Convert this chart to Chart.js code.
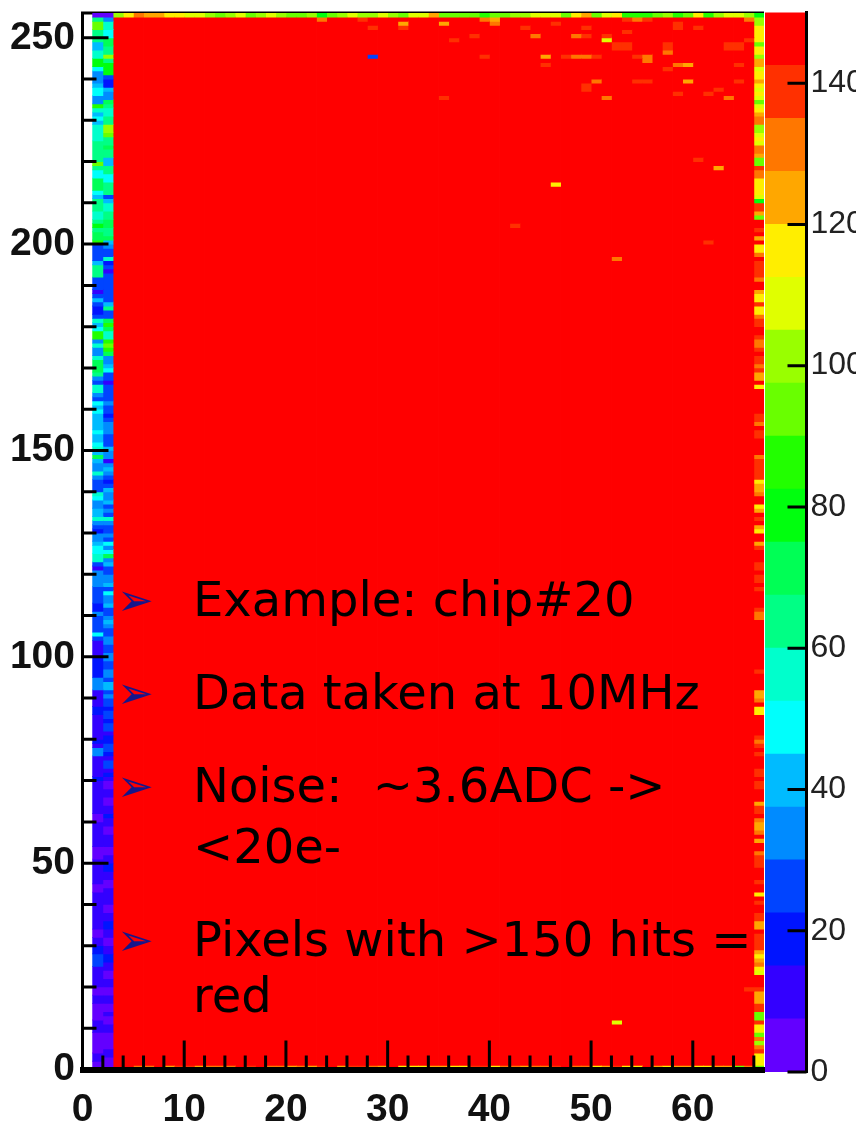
<!DOCTYPE html>
<html>
<head>
<meta charset="utf-8">
<script src="https://cdn.jsdelivr.net/npm/chart.js@4.4.1/dist/chart.umd.min.js"></script>
<style>
html,body{margin:0;padding:0;background:#fff;}
#wrap{position:relative;width:856px;height:1131px;overflow:hidden;background:#fff;}
#wrap canvas{position:absolute;left:0;top:0;}
.note{position:absolute;font-family:'DejaVu Sans',Verdana,sans-serif;font-size:48px;line-height:48px;color:#000;white-space:pre;}
.bullet{position:absolute;font-family:'DejaVu Sans',sans-serif;font-size:44px;line-height:44px;color:#16168a;}
</style>
</head>
<body>
<div id="wrap">
<canvas id="main" width="856" height="1131"></canvas>
<canvas id="zbar" width="856" height="1131"></canvas>
<div class="bullet" style="left:117px;top:578px">➢</div>
<div class="note" style="left:193px;top:575px">Example: chip#20</div>
<div class="bullet" style="left:117px;top:671px">➢</div>
<div class="note" style="left:193px;top:668px">Data taken at 10MHz</div>
<div class="bullet" style="left:117px;top:764px">➢</div>
<div class="note" style="left:193px;top:761px">Noise:  ~3.6ADC -&gt;</div>
<div class="note" style="left:193px;top:822px">&lt;20e-</div>
<div class="bullet" style="left:117px;top:918px">➢</div>
<div class="note" style="left:193px;top:915px">Pixels with &gt;150 hits =</div>
<div class="note" style="left:193px;top:971px">red</div>
</div>
<script>
// ================= DATA =================
const xTickLabels = [0, 10, 20, 30, 40, 50, 60];
const yTickLabels = [0, 50, 100, 150, 200, 250];
const zTickLabels = [0, 20, 40, 60, 80, 100, 120, 140];
const contourLevels = [0, 7.5, 15, 22.5, 30, 37.5, 45, 52.5, 60, 67.5, 75, 82.5, 90, 97.5, 105, 112.5, 120, 127.5, 135, 142.5, 150];
const nRows = 256;
const firstBin = 1, lastBin = 66;
const saturatedHits = 150;   // interior pixels: >150 hits (red)

// column x-bin 1, rows 255 -> 0 (top to bottom)
const colA = [
 3,62,95,92,66,64,62,42,40,58,56,80,78,50,35,33,
 36,43,50,49,35,34,85,57,44,50,42,58,56,57,55,64,
 66,63,65,62,93,64,50,51,72,74,73,52,44,64,66,63,
 57,58,65,75,63,72,70,86,27,25,28,26,40,64,62,65,
 26,24,27,12,26,41,25,19,20,27,57,42,52,84,86,34,
 56,35,33,58,72,73,70,64,35,27,56,58,34,26,50,43,
 49,42,44,41,42,50,43,40,50,56,42,72,41,34,35,57,
 33,27,26,25,55,50,35,36,42,44,56,34,26,20,35,34,
 42,50,49,56,58,27,12,34,35,36,34,26,27,25,26,19,
 20,34,26,27,25,26,50,27,12,13,11,12,20,19,21,19,
 20,34,35,36,12,11,13,12,19,20,12,11,12,13,11,12,
 19,11,34,35,12,11,13,12,11,19,12,11,12,13,11,12,
 10,11,5,4,11,12,11,10,12,11,5,4,6,11,12,10,
 11,12,11,5,4,11,12,12,13,11,10,11,12,11,5,6,
 11,12,20,19,26,27,25,12,11,10,11,12,5,4,11,12,
 5,6,4,5,11,12,11,4,5,6,4,5,11,12,5,4
];
// column x-bin 2, rows 255 -> 0
const colB = [
 4,36,57,55,50,49,72,74,64,63,101,65,80,79,78,26,
 19,20,42,35,34,72,64,57,56,63,62,100,102,94,64,65,
 72,64,63,42,43,65,62,50,51,63,64,62,26,41,57,56,
 64,63,72,73,63,65,70,42,34,26,27,57,19,25,12,26,
 25,27,24,26,27,25,42,64,26,25,72,85,73,57,56,84,
 94,86,72,34,35,41,50,26,27,12,25,26,27,25,35,26,
 25,19,27,35,34,36,26,27,25,42,35,34,12,35,41,34,
 26,20,25,42,34,35,43,26,35,27,56,34,26,25,35,26,
 50,35,49,72,34,42,26,27,34,35,42,26,50,35,34,41,
 27,26,34,42,34,26,27,35,34,26,25,34,35,26,27,34,
 35,26,42,43,26,34,27,26,19,26,27,19,26,25,12,19,
 20,26,27,19,12,26,25,11,19,12,4,5,11,12,4,5,
 11,12,19,12,11,5,4,11,12,11,5,4,12,11,19,20,
 12,11,5,4,12,11,13,11,5,6,11,12,19,20,12,11,
 4,5,11,12,19,20,11,12,5,4,11,12,4,5,11,12,
 4,5,11,4,5,12,11,4,6,5,4,11,12,4,5,4
];
// column x-bin 66 (right edge), rows 255 -> 0
const colRight = [
 82,101,102,118,115,116,114,95,117,115,101,122,123,110,116,118,
 123,116,110,117,110,95,109,116,123,130,131,101,100,110,117,110,
 130,131,124,95,94,140,132,130,117,118,117,116,110,82,140,139,
 124,95,150,150,140,150,123,150,117,116,130,150,140,141,139,140,
 131,150,150,124,117,118,140,117,116,131,140,139,150,150,140,131,
 130,140,150,140,141,131,140,124,125,150,117,150,150,150,150,150,
 150,140,140,131,150,140,141,150,150,150,150,131,140,140,141,140,
 139,117,124,123,131,150,150,117,124,150,140,150,124,117,150,150,
 123,140,150,150,150,140,141,150,140,139,150,141,150,150,150,150,
 140,131,130,150,150,150,150,150,150,150,150,150,150,150,150,140,
 150,150,150,150,123,124,131,150,117,116,150,150,150,150,150,140,
 131,140,150,140,150,150,150,140,141,150,140,140,150,150,150,124,
 140,141,150,131,124,123,131,150,124,150,150,131,140,141,140,150,
 150,150,140,150,150,117,150,140,150,150,140,140,124,123,150,140,
 140,141,140,123,117,123,131,117,110,150,150,150,140,124,123,124,
 140,140,94,95,140,117,116,94,131,101,131,140,117,116,117,94
];
// top row (row 255) for x-bins 3..65
const topRow = [101,116,130,123,124,117,116,110,109,100,95,102,110,94,101,110,101,95,95,101,82,94,101,110,100,101,109,100,94,110,111,123,95,94,96,94,86,95,94,101,100,110,109,111,95,117,123,94,110,116,85,84,86,95,101,85,94,117,85,101,110,109,100];
// bottom row (row 0) for x-bins 3..65
const bottomRow = [150,150,130,131,150,123,140,140,124,131,130,131,150,140,150,130,131,124,130,123,140,150,124,139,140,131,124,150,116,117,116,123,124,117,116,140,139,117,131,130,124,131,130,140,150,131,130,117,124,140,116,117,150,123,117,124,123,116,117,124,123,95,131];
// interior pixels below saturation: [x-bin, row, hits]
const hotPixels = [
 [23,254,131],[27,254,140],[39,254,131],[40,254,123],[53,254,140],[54,254,131],[55,254,140],[65,254,131],
 [31,253,123],[35,253,123],[40,253,131],[46,253,140],[58,253,140],
 [28,252,140],[31,252,140],[43,252,140],[49,252,140],[58,252,140],[60,252,140],
 [53,251,140],
 [38,250,140],[44,250,131],[48,250,131],[49,250,140],[51,250,140],
 [36,249,140],[51,249,110],[65,249,140],
 [52,248,140],[53,248,140],[57,248,140],[63,248,140],[64,248,140],
 [52,247,140],[53,247,140],[57,247,140],[63,247,140],[64,247,140],
 [57,246,131],
 [28,245,26],[39,245,140],[45,245,123],[47,245,140],[48,245,131],[49,245,131],[50,245,140],[54,245,140],[55,245,131],
 [55,244,131],
 [45,243,140],[58,243,131],[59,243,123],[64,243,140],
 [57,242,140],
 [50,239,131],[54,239,140],[55,239,140],[59,239,123],[64,239,140],
 [49,238,140],
 [49,237,140],[62,237,140],
 [58,236,140],[61,236,140],
 [35,235,140],[51,235,131],[63,235,131],
 [60,220,140],[62,218,123],[46,214,117],[42,204,140],[61,200,140],[52,196,131],
 [65,19,140],[52,11,110]
];

// ================= STYLE HELPERS =================
function levelOf(v) {
  let i = contourLevels.length - 2;
  while (i > 0 && v < contourLevels[i]) i--;
  return i;
}
function levelColor(i) {            // ROOT "pretty" palette, 50 colours over 20 contours
  const nCol = 50, nDiv = contourLevels.length - 1;
  const idx = Math.floor((i + 0.99) * nCol / nDiv);
  const hue = 280 - (idx + 1) * 280 / nCol;
  return 'hsl(' + hue.toFixed(2) + ',100%,50%)';
}
function columnValues(bin) {
  if (bin === 1) return colA.slice().reverse();
  if (bin === 2) return colB.slice().reverse();
  if (bin === lastBin) return colRight.slice().reverse();
  const v = [];
  for (let r = 0; r < nRows; r++) v.push(saturatedHits);
  v[nRows - 1] = topRow[bin - 3];
  v[0] = bottomRow[bin - 3];
  hotPixels.forEach(function (p) { if (p[0] === bin) v[p[1]] = p[2]; });
  return v;
}

// one dataset per x-bin; consecutive rows of the same colour merged into one floating bar
const datasets = [];
for (let bin = firstBin; bin <= lastBin; bin++) {
  const vals = columnValues(bin);
  const pts = [], cols = [];
  let start = 0;
  for (let r = 1; r <= vals.length; r++) {
    if (r === vals.length || levelOf(vals[r]) !== levelOf(vals[start])) {
      pts.push({ x: bin + 0.5, y: [start, r] });
      cols.push(levelColor(levelOf(vals[start])));
      start = r;
    }
  }
  datasets.push({ data: pts, backgroundColor: cols });
}

const axisFont = { family: "'Liberation Sans',Arial,sans-serif", size: 39, weight: 'bold' };

const frameTicks = {
  id: 'frameTicks',
  beforeDatasetsDraw(chart) {
    const { ctx, chartArea: a } = chart;
    ctx.save(); ctx.strokeStyle = '#000'; ctx.lineWidth = 3;
    ctx.beginPath(); ctx.moveTo(a.left - 1.5, a.top); ctx.lineTo(a.right, a.top); ctx.stroke();
    ctx.restore();
  },
  afterDatasetsDraw(chart) {
    const { ctx, chartArea: a, scales } = chart;
    const xs = scales.x, ys = scales.y;
    ctx.save(); ctx.strokeStyle = '#000'; ctx.lineWidth = 3; ctx.beginPath();
    for (let v = 0; v <= 66; v += 2) {
      const px = xs.getPixelForValue(v);
      const len = (v % 10 === 0) ? 29 : 14;
      ctx.moveTo(px, a.bottom); ctx.lineTo(px, a.bottom - len);
    }
    for (let v = 0; v <= 250; v += 10) {
      const py = ys.getPixelForValue(v);
      const len = (v % 50 === 0) ? 26 : 14;
      ctx.moveTo(a.left, py); ctx.lineTo(a.left + len, py);
    }
    ctx.stroke(); ctx.restore();
  }
};

new Chart(document.getElementById('main'), {
  type: 'bar',
  data: { datasets: datasets },
  options: {
    responsive: false, animation: false, events: [],
    layout: { padding: { left: 0, top: 13, right: 92, bottom: 0 } },
    plugins: { legend: { display: false }, tooltip: { enabled: false } },
    datasets: { bar: { grouped: false, barPercentage: 1, categoryPercentage: 1, borderWidth: 0, inflateAmount: 0.4 } },
    scales: {
      x: {
        type: 'linear', min: 0, max: 67, offset: false,
        grid: { display: false, drawTicks: false, offset: false },
        border: { display: true, color: '#000', width: 6, z: 1 },
        ticks: {
          stepSize: 10, includeBounds: false, autoSkip: false, maxRotation: 0, padding: 17,
          color: '#111', font: axisFont,
          callback: function (v) { return xTickLabels.indexOf(v) >= 0 ? String(v) : ''; }
        },
        afterFit: function (s) { s.height = 61.5; s.paddingLeft = 0; s.paddingRight = 0; }
      },
      y: {
        type: 'linear', min: 0, max: 256,
        grid: { display: false, drawTicks: false },
        border: { display: true, color: '#000', width: 3, z: 1 },
        ticks: {
          stepSize: 50, includeBounds: false, autoSkip: false, padding: 7.5,
          color: '#111', font: axisFont,
          callback: function (v) { return yTickLabels.indexOf(v) >= 0 ? String(v) : ''; }
        },
        afterFit: function (s) { s.width = 82.5; s.paddingTop = 0; s.paddingBottom = 0; }
      }
    }
  },
  plugins: [frameTicks]
});

// ---------- colour bar ----------
const zTicks = {
  id: 'zTicks',
  afterDatasetsDraw(chart) {
    const { ctx, chartArea: a, scales } = chart;
    ctx.save(); ctx.strokeStyle = '#000'; ctx.lineWidth = 3; ctx.beginPath();
    scales.y.ticks.forEach(function (t) {
      const py = scales.y.getPixelForValue(t.value);
      ctx.moveTo(a.right - 19, py); ctx.lineTo(a.right, py);
    });
    ctx.stroke(); ctx.restore();
  }
};
new Chart(document.getElementById('zbar'), {
  type: 'bar',
  data: {
    labels: ['hits'],
    datasets: contourLevels.slice(0, -1).map(function (lo, i) {
      return { data: [[lo, contourLevels[i + 1]]], backgroundColor: levelColor(i) };
    })
  },
  options: {
    responsive: false, animation: false, events: [],
    layout: { padding: { left: 765, top: 12.5, right: 0, bottom: 59 } },
    plugins: { legend: { display: false }, tooltip: { enabled: false } },
    datasets: { bar: { grouped: false, barPercentage: 1, categoryPercentage: 1, borderWidth: 0, inflateAmount: 0.5 } },
    scales: {
      x: { display: false },
      y: {
        position: 'right', min: 0, max: 150,
        grid: { display: false, drawTicks: false },
        border: { display: true, color: '#000', width: 3, z: 1 },
        ticks: {
          stepSize: 20, includeBounds: false, autoSkip: false, padding: 4,
          color: '#222', font: { family: "'Liberation Sans',Arial,sans-serif", size: 32 },
          callback: function (v) { return zTickLabels.indexOf(v) >= 0 ? String(v) : ''; }
        },
        afterFit: function (s) { s.width = 49.5; s.paddingTop = 0; s.paddingBottom = 0; }
      }
    }
  },
  plugins: [zTicks]
});
</script>
</body>
</html>
